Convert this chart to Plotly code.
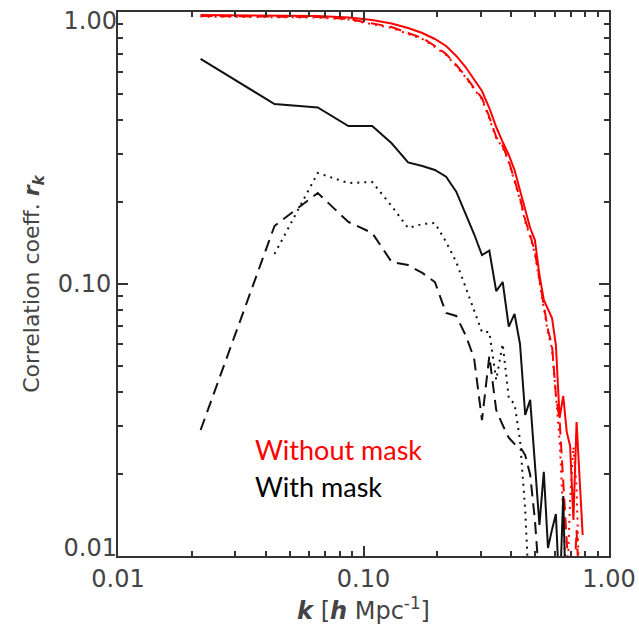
import plotly.graph_objects as go

# wavenumber grid k [h/Mpc]
k = [0.0217, 0.0434, 0.0651, 0.0868, 0.1085, 0.1302, 0.1519, 0.1736, 0.1953, 0.2170,
     0.2387, 0.2604, 0.2821, 0.3038, 0.3255, 0.3472, 0.3689, 0.3906, 0.4123, 0.4340,
     0.4557, 0.4774, 0.4991, 0.5208, 0.5425, 0.5642, 0.5859, 0.6076, 0.6293, 0.6510,
     0.6727, 0.6944, 0.7161, 0.7378, 0.7595, 0.7812]

# Without mask (red)
red_solid = [0.9749, 0.9708, 0.9667, 0.9545, 0.9346, 0.9072, 0.8733, 0.8373, 0.7958, 0.7499,
             0.6892, 0.6277, 0.5671, 0.5124, 0.4436, 0.3777, 0.3326, 0.2980, 0.2625, 0.2216,
             0.1870, 0.1606, 0.1451, 0.1079, 0.0873, 0.0802, 0.0750, 0.0597, 0.0322, 0.0388,
             0.0286, 0.0254, 0.01357, 0.0311, 0.0190, 0.01194]
red_dash = [0.9667, 0.9626, 0.9585, 0.9425, 0.9112, 0.8808, 0.8373, 0.8025, 0.7499, 0.7010,
            0.6385, 0.5815, 0.5254, 0.4828, 0.4111, 0.3470, 0.3216, 0.2833, 0.2411, 0.2071,
            0.1719, 0.1514, 0.1311, 0.1034, 0.0830, 0.0677, 0.0597, 0.0391, 0.0316, 0.0175,
            0.01098, 0.007, 0.007, 0.01246, 0.007]
red_dot = [0.962, 0.958, 0.954, 0.938, 0.905, 0.874, 0.830, 0.796, 0.744, 0.695,
           0.632, 0.576, 0.520, 0.478, 0.405, 0.343, 0.318, 0.280, 0.238, 0.204,
           0.169, 0.149, 0.129, 0.102, 0.082, 0.066, 0.058, 0.0375, 0.0267, 0.0141,
           0.007, 0.0161, 0.0252, 0.0179, 0.007]

# With mask (black)
black_solid = [0.672, 0.459, 0.446, 0.381, 0.381, 0.329, 0.280, 0.2715, 0.2625, 0.248,
               0.2184, 0.1824, 0.1527, 0.1278, 0.1326, 0.0942, 0.1017, 0.0697, 0.0776, 0.0602,
               0.033, 0.0375, 0.0216, 0.013, 0.0204, 0.0107, 0.0125, 0.01427, 0.007, 0.0166,
               0.005]
black_dot = [0.1289, 0.2559, 0.2351, 0.2371, 0.1935, 0.1606, 0.1661, 0.1676, 0.1427, 0.1205,
             0.0975, 0.0802, 0.0666, 0.0666, 0.0444, 0.0602, 0.0381, 0.0362, 0.0267, 0.01476,
             0.006]
black_dash = [0.02905, 0.1634, 0.2160, 0.1690, 0.1540, 0.1205, 0.1174, 0.1098, 0.1017, 0.0782,
              0.0763, 0.0649, 0.0534, 0.0316, 0.0544, 0.0344, 0.0303, 0.0272, 0.0258, 0.0252,
              0.0235, 0.0199, 0.01357, 0.008]

major_ticks = [0.01, 0.1, 1.0]
major_text = ["0.01", "0.10", "1.00"]
minor_ticks = [0.02, 0.03, 0.04, 0.05, 0.06, 0.07, 0.08, 0.09,
               0.2, 0.3, 0.4, 0.5, 0.6, 0.7, 0.8, 0.9]

RED = "#ff0000"
BLK = "#111111"

fig = go.Figure()
fig.add_trace(go.Scatter(x=k[:len(black_dash)], y=black_dash, mode="lines",
                         line=dict(color=BLK, width=2, dash="12px,7px")))
fig.add_trace(go.Scatter(x=k[1:1 + len(black_dot)], y=black_dot, mode="lines",
                         line=dict(color=BLK, width=2, dash="2px,5px")))
fig.add_trace(go.Scatter(x=k[:len(black_solid)], y=black_solid, mode="lines",
                         line=dict(color=BLK, width=2), yaxis="y3"))
fig.add_trace(go.Scatter(x=k[:len(red_dot)], y=red_dot, mode="lines",
                         line=dict(color=RED, width=2, dash="2px,5px")))
fig.add_trace(go.Scatter(x=k[:len(red_dash)], y=red_dash, mode="lines",
                         line=dict(color=RED, width=2, dash="12px,7px")))
fig.add_trace(go.Scatter(x=k[:len(red_solid)], y=red_solid, mode="lines",
                         line=dict(color=RED, width=2), yaxis="y2"))

AX = "#333333"
TXT = "#444444"
tickfont = dict(family="DejaVu Sans", size=24, color=TXT)

common = dict(type="log", range=[-2, 0], tickvals=major_ticks, ticktext=major_text,
              ticks="inside", ticklen=10, tickwidth=1.5, tickcolor=AX,
              showline=True, linecolor=AX, linewidth=2, mirror="ticks",
              showgrid=False, zeroline=False, tickfont=tickfont, automargin=False,
              ticklabeloverflow="allow",
              minor=dict(tickvals=minor_ticks, ticks="inside", ticklen=5,
                         tickwidth=1.5, tickcolor=AX, showgrid=False))

yaxis_main = dict(common)
yaxis_main.update(tickvals=[0.01, 0.1, 1.0], ticktext=["", "0.10", ""])

label_axis = dict(type="log", range=[-2, 0], overlaying="y", side="left", anchor="x",
                  showline=False, ticks="", showgrid=False, zeroline=False,
                  tickfont=tickfont, automargin=False, ticklabeloverflow="allow")

fig.update_layout(
    width=639, height=633,
    margin=dict(l=118, r=30, t=12, b=77, autoexpand=False),
    plot_bgcolor="white", paper_bgcolor="white",
    showlegend=False,
    xaxis=dict(**common,
               title=dict(text="<b><i>k</i></b> [<b><i>h</i></b> Mpc<sup>-1</sup>]",
                          font=dict(family="DejaVu Sans", size=24, color=TXT), standoff=8)),
    yaxis=dict(**yaxis_main,
               title=dict(text="Correlation coeff. <b><i>r<sub>k</sub></i></b>",
                          font=dict(family="DejaVu Sans", size=22, color=TXT), standoff=12)),
    yaxis2=dict(**label_axis, tickvals=[1.0], ticktext=["1.00"], ticklabelshift=9),
    yaxis3=dict(**label_axis, tickvals=[0.01], ticktext=["0.01"], ticklabelshift=-8),
    annotations=[
        dict(text="Without mask", x=0.275, y=0.195, xref="paper", yref="paper",
             xanchor="left", yanchor="middle", showarrow=False,
             font=dict(family="Lato", size=27, color=RED)),
        dict(text="With mask", x=0.275, y=0.127, xref="paper", yref="paper",
             xanchor="left", yanchor="middle", showarrow=False,
             font=dict(family="Lato", size=27, color="black")),
    ],
)

fig.write_html("out.html")
